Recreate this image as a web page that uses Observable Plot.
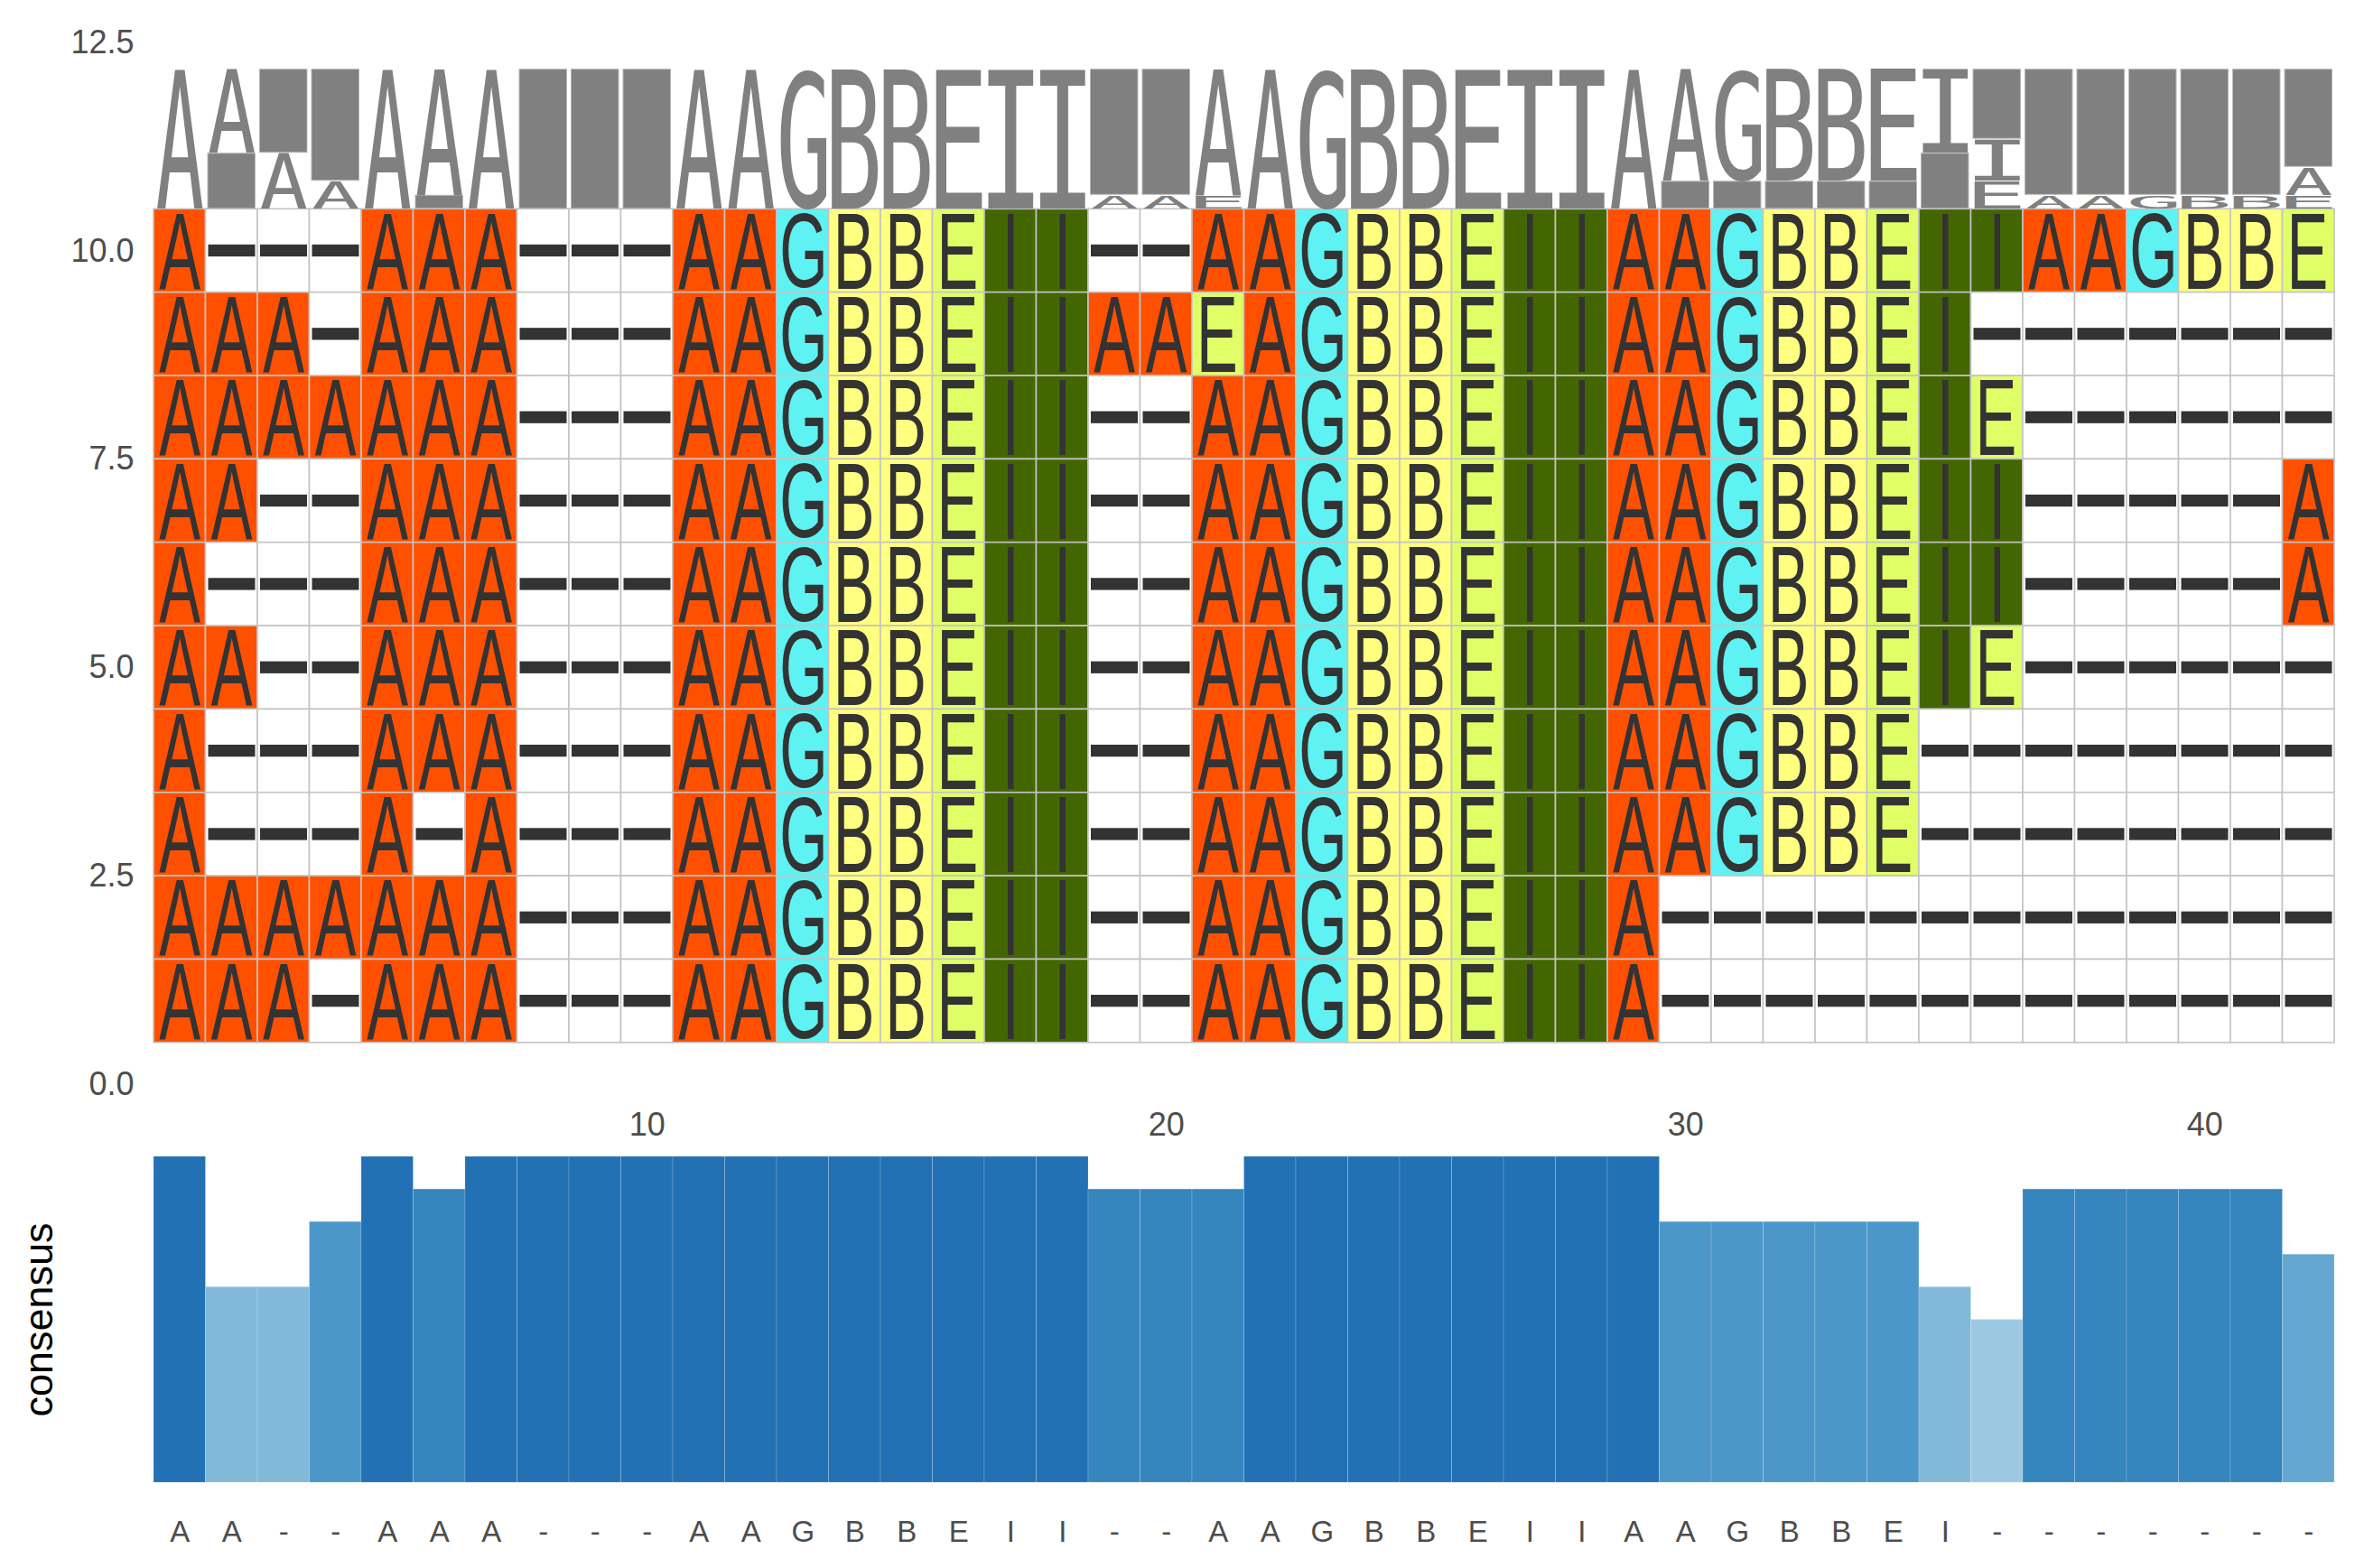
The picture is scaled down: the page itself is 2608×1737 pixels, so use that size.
<!DOCTYPE html>
<html>
<head>
<meta charset="utf-8">
<script src="https://cdn.jsdelivr.net/npm/d3@7"></script>
<script src="https://cdn.jsdelivr.net/npm/@observablehq/plot@0.6"></script>
<style>
html, body { margin: 0; padding: 0; background: #ffffff; }
#chart { width: 2608px; height: 1737px; overflow: hidden; background: #ffffff; }
#chart svg { display: block; }
</style>
</head>
<body>
<div id="chart"></div>
<script>
// ---------------- data ----------------
// aligned sequences, listed from the top row (y = 10) to the bottom row (y = 1)
const rowIds = [10, 9, 8, 7, 6, 5, 4, 3, 2, 1];
const sequences = [
  "A---AAA---AAGBBEII--AAGBBEIIAAGBBEIIAAGBBE",
  "AAA-AAA---AAGBBEIIAAEAGBBEIIAAGBBEI-------",
  "AAAAAAA---AAGBBEII--AAGBBEIIAAGBBEIE------",
  "AA--AAA---AAGBBEII--AAGBBEIIAAGBBEII-----A",
  "A---AAA---AAGBBEII--AAGBBEIIAAGBBEII-----A",
  "AA--AAA---AAGBBEII--AAGBBEIIAAGBBEIE------",
  "A---AAA---AAGBBEII--AAGBBEIIAAGBBE--------",
  "A---A-A---AAGBBEII--AAGBBEIIAAGBBE--------",
  "AAAAAAA---AAGBBEII--AAGBBEIIA-------------",
  "AAA-AAA---AAGBBEII--AAGBBEIIA-------------"
];
// consensus letter and its share, per position 1..42
const consensusLetters = ["A","A","-","-","A","A","A","-","-","-",
  "A","A","G","B","B","E","I","I","-","-",
  "A","A","G","B","B","E","I","I","A","A",
  "G","B","B","E","I","-","-","-","-","-","-","-"];
const consensusValues = [1.0,0.6,0.6,0.8,1.0,0.9,1.0,1.0,1.0,1.0,
  1.0,1.0,1.0,1.0,1.0,1.0,1.0,1.0,0.9,0.9,
  0.9,1.0,1.0,1.0,1.0,1.0,1.0,1.0,1.0,0.8,
  0.8,0.8,0.8,0.8,0.6,0.5,0.9,0.9,0.9,0.9,0.9,0.7];
const xTickValues = [10, 20, 30, 40];
const yTickValues = [0, 2.5, 5, 7.5, 10, 12.5];

// ---------------- styles ----------------
const residueColors = {A: "#FF5000", G: "#5EF2F2", B: "#FFFF80", E: "#E0FF66", I: "#436600", "-": "#FFFFFF"};
const nPos = consensusLetters.length;
const logoBase = 10.5, logoHeight = 1.68;
const W = 2608, topH = 1265, botH = 472;
const mL = 170, mR = 23;
const tileFamily = "Liberation Sans";
const logoFamily = "DejaVu Sans Mono";

// ---------------- derived tables ----------------
const cells = [];
sequences.forEach((s, r) => {
  for (let c = 0; c < s.length; c++) cells.push({pos: c + 1, row: rowIds[r], letter: s[c]});
});
const dashCells = cells.filter(d => d.letter === "-");
const letterCells = cells.filter(d => d.letter !== "-");

const logo = [];
for (let c = 0; c < nPos; c++) {
  const counts = d3.rollups(sequences, v => v.length, s => s[c]).sort((a, b) => a[1] - b[1]);
  let acc = 0;
  for (const [letter, n] of counts) {
    const f = n / sequences.length;
    logo.push({pos: c + 1, letter, y1: logoBase + acc * logoHeight, y2: logoBase + (acc + f) * logoHeight});
    acc += f;
  }
}
const logoDash = logo.filter(d => d.letter === "-");
const logoLetters = logo.filter(d => d.letter !== "-");

const bars = consensusValues.map((v, i) => ({pos: i + 1, value: v, letter: consensusLetters[i]}));
const blue = v => d3.interpolateBlues(0.375 + 0.75 * (v - 0.5));

// ---------------- top panel ----------------
const topPlot = Plot.plot({
  width: W, height: topH,
  marginLeft: mL, marginRight: mR, marginTop: 46.6, marginBottom: 64,
  style: {fontFamily: "Liberation Sans, Arial, sans-serif", fontSize: "36px", color: "#4d4d4d", background: "#ffffff"},
  x: {domain: [0.5, nPos + 0.5], ticks: xTickValues, tickSize: 0, tickPadding: 31, label: null},
  y: {domain: [0, 12.5], ticks: yTickValues, tickFormat: d3.format(".1f"), tickSize: 0, tickPadding: 22, label: null},
  color: {type: "identity"},
  marks: [
    Plot.rect(cells, {
      x1: d => d.pos - 0.5, x2: d => d.pos + 0.5,
      y1: d => d.row - 0.5, y2: d => d.row + 0.5,
      fill: d => residueColors[d.letter], stroke: "#c4c4c4", strokeWidth: 1.6
    }),
    Plot.rect(dashCells, {
      x1: d => d.pos - 0.5, x2: d => d.pos + 0.5,
      y1: d => d.row - 0.072, y2: d => d.row + 0.072,
      fill: "#333333", insetLeft: 3, insetRight: 2.5
    }),
    Plot.text(letterCells, {x: "pos", y: "row", text: "letter", fill: "#333333", fontFamily: tileFamily, fontSize: 100}),
    Plot.rect(logoDash, {
      x1: d => d.pos - 0.5, x2: d => d.pos + 0.5, y1: "y1", y2: "y2",
      fill: "#808080", stroke: "#b8b8b8", strokeWidth: 1, insetLeft: 2.5, insetRight: 2.5, insetTop: 0.5, insetBottom: 0.5
    }),
    Plot.text(logoLetters, {x: "pos", y: "y1", text: "letter", fill: "#808080", fontFamily: logoFamily, fontSize: 100})
  ]
});

// ---------------- bottom panel ----------------
const botPlot = Plot.plot({
  width: W, height: botH,
  marginLeft: mL, marginRight: mR, marginTop: 16, marginBottom: 95,
  style: {fontFamily: "Liberation Sans, Arial, sans-serif", fontSize: "33px", color: "#4d4d4d", background: "#ffffff"},
  x: {domain: [0.5, nPos + 0.5], ticks: d3.range(1, nPos + 1), tickFormat: i => consensusLetters[i - 1], tickSize: 0, tickPadding: 42, label: null},
  y: {domain: [0, 1], axis: null},
  color: {type: "identity"},
  marks: [
    Plot.rect(bars, {
      x1: d => d.pos - 0.5, x2: d => d.pos + 0.5, y1: 0, y2: "value",
      fill: d => blue(d.value), stroke: "#ffffff", strokeOpacity: 0.18, strokeWidth: 1
    }),
    Plot.text(["consensus"], {frameAnchor: "left", textAnchor: "middle", lineAnchor: "middle", dx: -127, rotate: -90, fontSize: 45, fill: "#000000", fontFamily: "Liberation Sans"})
  ]
});

const chart = document.getElementById("chart");
chart.appendChild(topPlot);
chart.appendChild(botPlot);

// ---------------- stretch glyphs into their cells ----------------
const ctx = document.createElement("canvas").getContext("2d");
function measure(ch, family) {
  ctx.font = `100px "${family}"`;
  const m = ctx.measureText(ch);
  return {L: m.actualBoundingBoxLeft, R: m.actualBoundingBoxRight, A: m.actualBoundingBoxAscent, D: m.actualBoundingBoxDescent};
}
const sx = topPlot.scale("x"), sy = topPlot.scale("y");
const groups = Array.from(topPlot.querySelectorAll('g[aria-label="text"]'));
function place(el, family, tf) {
  el.setAttribute("x", 0); el.setAttribute("y", 0);
  el.removeAttribute("dy");
  el.setAttribute("text-anchor", "start");
  el.style.fontFamily = `"${family}"`;
  el.style.fontSize = "100px";
  el.setAttribute("transform", tf);
}
// tile letters
if (groups[0]) {
  const cellW = sx.apply(1.5) - sx.apply(0.5);
  const cellH = sy.apply(0.5) - sy.apply(1.5);
  const mA = measure("A", tileFamily);
  const kx = cellW * 0.80 / (mA.L + mA.R);
  const texts = groups[0].querySelectorAll("text");
  letterCells.forEach((d, i) => {
    const el = texts[i]; if (!el) return;
    const m = measure(d.letter, tileFamily);
    const ky = cellH * 0.90 / (m.A + m.D);
    const cx = sx.apply(d.pos), cy = sy.apply(d.row);
    place(el, tileFamily, `translate(${cx - kx * (m.R - m.L) / 2},${cy - ky * (m.D - m.A) / 2}) scale(${kx},${ky})`);
  });
}
// logo letters
if (groups[1]) {
  const texts = groups[1].querySelectorAll("text");
  logoLetters.forEach((d, i) => {
    const el = texts[i]; if (!el) return;
    const m = measure(d.letter, logoFamily);
    const bx1 = sx.apply(d.pos - 0.5) + 3, bx2 = sx.apply(d.pos + 0.5) - 3;
    const by1 = sy.apply(d.y2) + 0.5, by2 = sy.apply(d.y1) - 0.5;
    const kx = (bx2 - bx1) / (m.L + m.R), ky = (by2 - by1) / (m.A + m.D);
    place(el, logoFamily, `translate(${bx1 + m.L * kx},${by1 + m.A * ky}) scale(${kx},${ky})`);
  });
}
</script>
</body>
</html>
